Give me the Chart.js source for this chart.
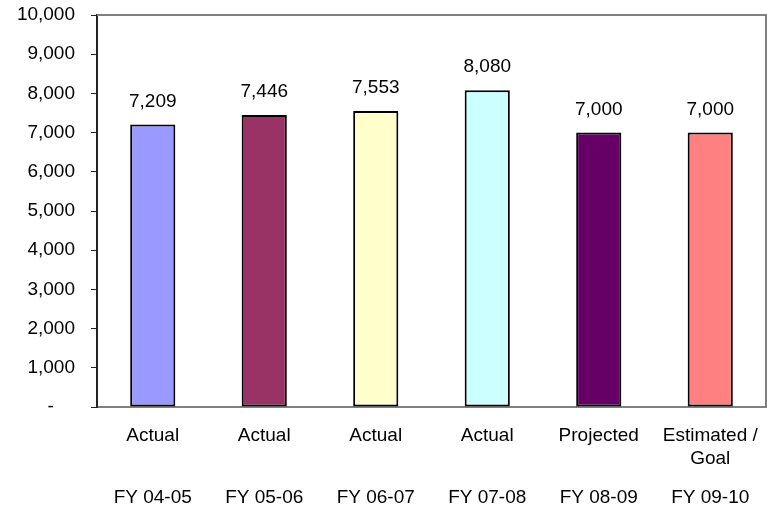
<!DOCTYPE html>
<html>
<head>
<meta charset="utf-8">
<script src="https://cdn.jsdelivr.net/npm/chart.js@4/dist/chart.umd.min.js"></script>
<style>
  html, body { margin: 0; padding: 0; background: #fff; }
  #wrap { width: 767px; height: 510px; }
</style>
</head>
<body>
<div id="wrap"><canvas id="bar-chart" width="767" height="510"></canvas></div>
<script>
// enrollment data
const years = ["FY 04-05", "FY 05-06", "FY 06-07", "FY 07-08", "FY 08-09", "FY 09-10"];
const status = ["Actual", "Actual", "Actual", "Actual", "Projected", "Estimated / Goal"];
const values = [7209, 7446, 7553, 8080, 7000, 7000];
const barColors = ["#9999FF", "#993366", "#FFFFCC", "#CCFFFF", "#660066", "#FF8080"];

// status labels, wrapped at " / "
const labels = status.map(s => {
    if (s.includes(" / ")) {
        const parts = s.split(" / ");
        return [parts[0] + " /", parts[1]];
    }
    return s;
});

const FONT = "'Liberation Sans', Arial, sans-serif";
Chart.defaults.font.family = FONT;
Chart.defaults.font.size = 19;
Chart.defaults.color = "#000";

// value labels above each bar
const valueLabels = {
    id: "valueLabels",
    afterDatasetsDraw(chart) {
        const ctx = chart.ctx;
        const meta = chart.getDatasetMeta(0);
        ctx.save();
        ctx.font = "19px " + FONT;
        ctx.fillStyle = "#000";
        ctx.textAlign = "center";
        ctx.textBaseline = "middle";
        meta.data.forEach((bar, i) => {
            ctx.fillText(values[i].toLocaleString("en-US"), bar.x, bar.y - 23);
        });
        ctx.restore();
    }
};

// grey frame on top and right of plot area
const plotFrame = {
    id: "plotFrame",
    beforeDatasetsDraw(chart) {
        const a = chart.chartArea;
        const ctx = chart.ctx;
        ctx.save();
        ctx.strokeStyle = "#808080";
        ctx.lineWidth = 2;
        ctx.beginPath();
        ctx.moveTo(a.left, a.top);
        ctx.lineTo(a.right, a.top);
        ctx.lineTo(a.right, a.bottom);
        ctx.stroke();
        ctx.restore();
    }
};

const noSidePad = scale => { scale.paddingLeft = 0; scale.paddingRight = 0; };

const chart = new Chart(document.getElementById("bar-chart"), {
    type: "bar",
    data: {
        labels: labels,
        datasets: [{
            data: values,
            backgroundColor: barColors,
            borderColor: "#000",
            borderWidth: 2,
            borderSkipped: false,
            categoryPercentage: 1,
            barPercentage: 0.405
        }]
    },
    options: {
        responsive: false,
        animation: false,
        layout: { padding: { top: 15, right: 1, left: 0, bottom: 0 } },
        plugins: {
            legend: { display: false },
            tooltip: { enabled: false }
        },
        scales: {
            x: {
                grid: { display: false, drawTicks: false },
                border: { color: "#808080", width: 2 },
                ticks: {
                    padding: 17,
                    maxRotation: 0,
                    autoSkip: false,
                    font: { size: 19, lineHeight: 1.21 }
                },
                afterFit(scale) { scale.height = 62; noSidePad(scale); }
            },
            // fiscal year row under the status labels
            years: {
                type: "category",
                labels: years,
                position: "bottom",
                offset: true,
                grid: { display: false, drawTicks: false },
                border: { display: false },
                ticks: { padding: 17, maxRotation: 0, autoSkip: false },
                afterFit(scale) { scale.height = 41; noSidePad(scale); }
            },
            y: {
                min: 0,
                max: 10000,
                grid: {
                    drawOnChartArea: false,
                    drawTicks: true,
                    tickLength: 6,
                    color: "#222"
                },
                border: { color: "#222", width: 2 },
                ticks: {
                    stepSize: 1000,
                    padding: 16,
                    callback: v => v === 0 ? "-    " : v.toLocaleString("en-US")
                },
                afterFit(scale) {
                    scale.width = 97;
                    scale.paddingTop = 0;
                    scale.paddingBottom = 0;
                }
            }
        }
    },
    plugins: [plotFrame, valueLabels]
});
</script>
</body>
</html>
